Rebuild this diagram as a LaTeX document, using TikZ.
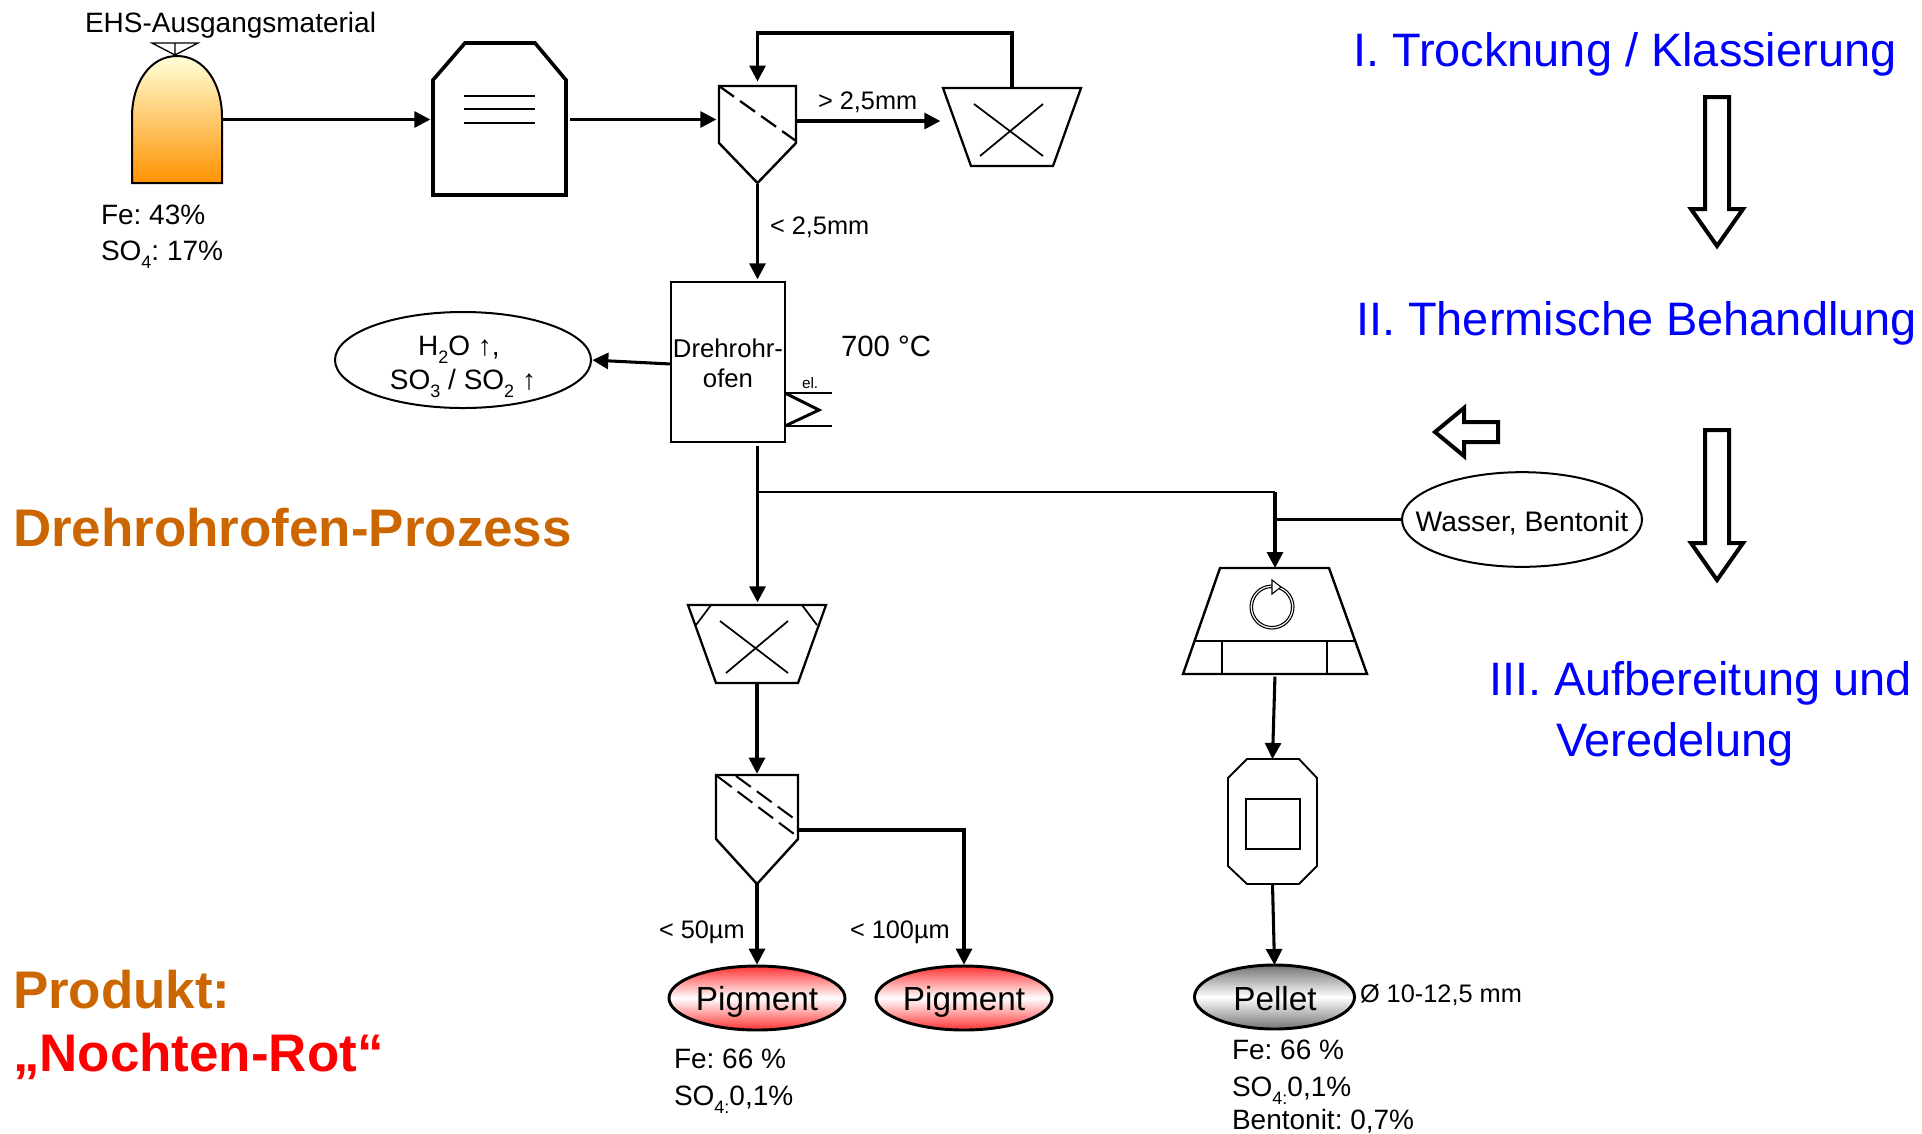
\documentclass[tikz,border=0pt]{standalone}
\usepackage{fontspec}
\setmainfont{Liberation Sans}
\usepackage{tikz}
\usetikzlibrary{arrows.meta,shapes.geometric,positioning}

\definecolor{procblue}{RGB}{0,0,255}
\definecolor{procorange}{RGB}{204,102,0}
\definecolor{procred}{RGB}{255,0,0}
\newcommand{\subs}[1]{\raisebox{-0.3em}{\fontsize{13.5}{14}\selectfont #1}}
\frenchspacing

\begin{document}
\begin{tikzpicture}[x=0.75pt, y=-0.75pt, >={Triangle[length=12pt,width=12pt]},
  flow/.style={->, line width=2.3pt},
  pipe/.style={line width=1.6pt},
  box/.style={inner sep=0pt, outer sep=0pt},
  txt/.style={inner sep=0pt, outer sep=0pt, anchor=base west, font=\fontsize{21}{24}\selectfont},
  small/.style={txt, font=\fontsize{19}{22}\selectfont},
  title/.style={txt, font=\fontsize{35.2}{42}\selectfont, text=procblue},
  head/.style={txt, font=\fontsize{39.7}{46}\selectfont\bfseries},
  blockarrow/.style={draw, fill=white, line width=3pt},
  pigment/.style={ellipse, draw, line width=2.2pt, box, minimum width=132pt, minimum height=48pt, top color=red!80, bottom color=red!80, middle color=white},
]
\useasboundingbox (0,0) rectangle (1922,1133);

% Stage 1
\node[txt] (EHS) at (85,32) {EHS-Ausgangsmaterial};
\node[box, minimum width=67.5pt, minimum height=95pt] (Source) at (177,119.5) {};
\draw[line width=1.5pt, top color=yellow!15!white, bottom color=orange!85!yellow]
  (132,183) -- (132,117) .. controls (132,83) and (150,56) .. (177,56)
  .. controls (204,56) and (222,83) .. (222,117) -- (222,183) -- cycle;
\draw[line width=1pt] (152,43) -- (198,43) -- (175,55) -- cycle (175,43) -- (175,55);
\node[txt] (FeIn) at (101,224) {Fe: 43\%};
\node[txt] (SOIn) at (101,260) {SO\subs{4}: 17\%};

\node[box, minimum width=99.75pt, minimum height=114pt] (Mill) at (499.5,119) {};
\draw[line width=2.7pt] (433,80) -- (465,43) -- (535,43) -- (566,80) -- (566,195) -- (433,195) -- cycle;
\draw[line width=2.2pt] (464,96) -- (535,96) (464,109) -- (535,109) (464,123) -- (535,123);

\node[box, minimum width=57.75pt, minimum height=73.5pt] (Screen) at (757.5,134.5) {};
\draw[line width=1.8pt] (719,86) -- (796,86) -- (796,143) -- (757.5,183) -- (719,143) -- cycle;
\draw[line width=1.7pt, dash pattern=on 13.8pt off 5.6pt] (719,86) -- (796,141);

\node[box, minimum width=103.5pt, minimum height=58.5pt] (Crusher) at (1012,127) {};
\draw[line width=1.7pt] (943,88) -- (1081,88) -- (1053,166) -- (971,166) -- cycle;
\draw[line width=1.3pt] (974,104) -- (1043,156) (980,156) -- (1043,104);

\draw[flow, shorten <=1pt, shorten >=2pt] (Source.east) -- (Source.east -| Mill.west);
\draw[flow, shorten <=3pt, shorten >=2pt] (Mill.east |- Source.east) -- (Screen.west |- Source.east);
\draw[flow, shorten >=2pt] (Screen.east |- 0,121) -- (Crusher.west |- 0,121);
\coordinate (ReturnTop) at (1012,33);
\draw[flow, shorten >=3pt] (Crusher.north) -- (ReturnTop) -| (Screen.north);
\node[small] (Coarse) at (818,109) {> 2,5mm};
\node[small] (Fine) at (770,234) {< 2,5mm};

% Stage 2
\node[draw, line width=1.4pt, box, minimum width=85.5pt, minimum height=120pt] (Kiln) at (728,362) {};
\node[txt, font=\fontsize{19.3}{22}\selectfont, anchor=base] (KilnA) at (728,357) {Drehrohr-};
\node[txt, font=\fontsize{19.3}{22}\selectfont, anchor=base] (KilnB) at (728,387) {ofen};
\node[ellipse, draw, line width=1.5pt, box, minimum width=192pt, minimum height=72pt] (Gas) at (463,360) {};
\node[txt, anchor=base] (GasA) at (459,355) {H\subs{2}O ↑,};
\node[txt, anchor=base] (GasB) at (463,389) {SO\subs{3} / SO\subs{2} ↑};
\draw[flow, shorten >=1pt] (Kiln.west |- 0,364) -- (Gas.east);
\draw[line width=2.2pt] (785,393) -- (832,393) (785,426) -- (832,426);
\draw[line width=2.2pt] (785,393) -- (819,410) -- (785,426);
\node[txt, font=\fontsize{11.5}{14}\selectfont] (Elec) at (802,388) {el.};
\node[txt, font=\fontsize{22}{24}\selectfont] (Temp) at (841,356) {700 °C};
\coordinate (KilnOut) at (757.5,446);
\draw[flow, shorten >=2pt] (Screen.south) -- (Kiln.north -| Screen.south);

% Stage 3, pigment line
\node[box, minimum width=103.5pt, minimum height=58.5pt] (Mill2) at (757,644) {};
\draw[line width=1.7pt] (688,605) -- (826,605) -- (798,683) -- (716,683) -- cycle;
\draw[line width=1.3pt] (711,605) -- (696,625) (802,605) -- (817,625);
\draw[line width=1.3pt] (720,621) -- (788,673) (726,673) -- (788,621);
\node[box, minimum width=61.5pt, minimum height=81.75pt] (Screen2) at (757,829.5) {};
\draw[line width=1.8pt] (716,775) -- (798,775) -- (798,839) -- (757,884) -- (716,839) -- cycle;
\draw[line width=1.5pt, dash pattern=on 13.8pt off 5.6pt] (717,776) -- (798,837);
\draw[line width=1.5pt, dash pattern=on 13.8pt off 5.6pt] (736,776) -- (796,820);
\node[pigment] (PigA) at (757,998) {};
\node[pigment] (PigB) at (964,998) {};
\node[txt, font=\fontsize{25}{28}\selectfont, anchor=base] (PigAt) at (757,1010) {Pigment};
\node[txt, font=\fontsize{25}{28}\selectfont, anchor=base] (PigBt) at (964,1010) {Pigment};
\draw[flow, shorten >=2pt] (KilnOut) -- (Mill2.north -| KilnOut);
\draw[flow, shorten <=1pt, shorten >=1pt] (Mill2.south) -- (Screen2.north);
\draw[flow, shorten >=1pt] (Screen2.south) -- (PigA.north);
\draw[flow, shorten >=1pt] (Screen2.east |- 0,830) -| (PigB.north);
\node[small] (LtA) at (659,938) {< 50µm};
\node[small] (LtB) at (850,938) {< 100µm};
\node[txt] (FeA) at (674,1068) {Fe: 66 \%};
\node[txt] (SOA) at (674,1105) {SO\subs{4:}0,1\%};

% Stage 3, pellet line
\node[box, minimum width=137.25pt, minimum height=79.5pt] (Mixer) at (1275,621) {};
\draw[line width=1.8pt] (1220,568) -- (1329,568) -- (1367,674) -- (1183,674) -- cycle;
\draw[line width=1.8pt] (1195,641) -- (1354,641) (1222,641) -- (1222,674) (1327,641) -- (1327,674);
\draw[line width=0.8pt] (1272,607) circle[radius=22] (1272,607) circle[radius=19.5];
\draw[line width=0.8pt, fill=white] (1272,580) -- (1281,587) -- (1272,594) -- cycle;
\node[box, minimum width=66.75pt, minimum height=93.75pt] (Press) at (1272.5,821.5) {};
\draw[line width=1.4pt] (1247,759) -- (1299,759) -- (1317,778) -- (1317,866) -- (1299,884) -- (1247,884) -- (1228,866) -- (1228,778) -- cycle;
\draw[line width=1.5pt] (1246,799) rectangle (1300,849);
\node[ellipse, draw, line width=2.2pt, box, minimum width=120pt, minimum height=48pt, top color=black!55, bottom color=black!55, middle color=white] (Pellet) at (1274.5,997) {};
\node[txt, font=\fontsize{25}{28}\selectfont, anchor=base] (Pellett) at (1275,1010) {Pellet};
\node[ellipse, draw, line width=1.5pt, box, minimum width=180pt, minimum height=71pt] (Water) at (1522,519.5) {};
\node[txt, font=\fontsize{21.2}{24}\selectfont, anchor=base] (Watert) at (1522,531) {Wasser, Bentonit};
\coordinate (Branch) at (1275,492);
\draw[line width=2.2pt] (KilnOut |- Branch) -- (Branch);
\draw[flow] (Branch) -- (Mixer.north -| Branch);
\draw[flow, shorten <=2pt] (Mixer.south) -- (Press.north);
\draw[flow] (Press.south) -- (Pellet.north);
\draw[pipe] (Water.west) -- (Water.west -| Branch);
\node[small] (Dia) at (1360,1002) {Ø 10-12,5 mm};
\node[txt] (FeB) at (1232,1059) {Fe: 66 \%};
\node[txt] (SOB) at (1232,1096) {SO\subs{4:}0,1\%};
\node[txt] (BeB) at (1232,1129) {Bentonit: 0,7\%};

% Titles
\node[title] (T1) at (1353,66) {I. Trocknung / Klassierung};
\node[title] (T2) at (1356,335) {II. Thermische Behandlung};
\node[title] (T3) at (1489,695) {III. Aufbereitung und};
\node[title] (T4) at (1556,756) {Veredelung};
\node[head, text=procorange] (H1) at (13,546) {Drehrohrofen-Prozess};
\node[head, text=procorange] (H2) at (13,1008) {Produkt:};
\node[head, text=procred] (H3) at (13,1071) {„Nochten-Rot“};

% Block arrows
\draw[blockarrow] (1705,97) -- (1729,97) -- (1729,209) -- (1743,209) -- (1717,246) -- (1691,209) -- (1705,209) -- cycle;
\draw[blockarrow] (1705,430) -- (1729,430) -- (1729,543) -- (1743,543) -- (1717,580) -- (1691,543) -- (1705,543) -- cycle;
\draw[blockarrow] (1498,422) -- (1498,442) -- (1464,442) -- (1464,456) -- (1435,432) -- (1464,408) -- (1464,422) -- cycle;
\end{tikzpicture}
\end{document}
